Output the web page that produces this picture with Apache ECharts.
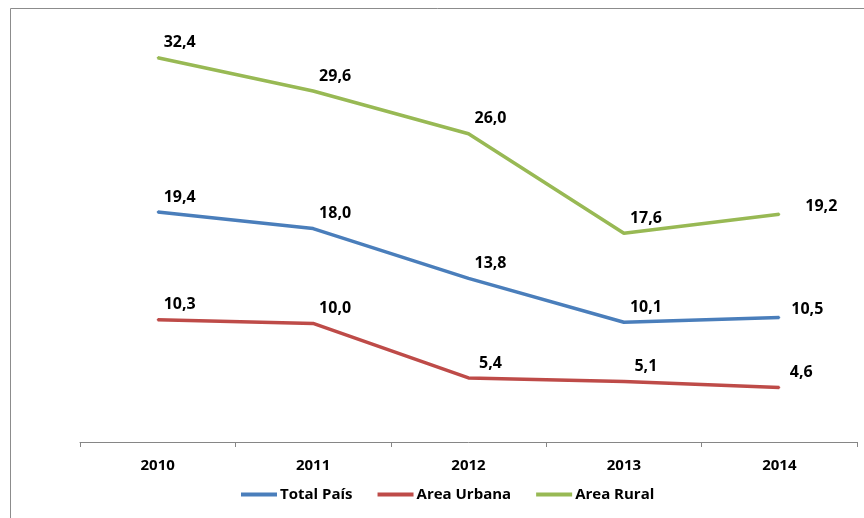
<!DOCTYPE html>
<html>
<head>
<meta charset="utf-8">
<script src="https://cdn.jsdelivr.net/npm/echarts@6/dist/echarts.min.js"></script>
<style>
  html, body { margin: 0; padding: 0; background: #fff; }
  #chart { width: 864px; height: 518px; }
</style>
</head>
<body>
<div id="chart"></div>
<script>
const years = ['2010', '2011', '2012', '2013', '2014'];
const totalPais = [19.4, 18.0, 13.8, 10.1, 10.5];
const areaUrbana = [10.3, 10.0, 5.4, 5.1, 4.6];
const areaRural = [32.4, 29.6, 26.0, 17.6, 19.2];

const font = 'Open Sans, Liberation Sans, sans-serif';

// lets the last point's label sit a bit further right, like the original
const withLastOffset = (values, dx) => values.map((v, i) =>
  i === values.length - 1 ? { value: v, label: { offset: [dx, 5] } } : v
);

const makeSeries = (name, color, data) => ({
  name,
  type: 'line',
  data,
  symbol: 'circle',
  symbolSize: 2,
  showSymbol: true,
  lineStyle: { width: 3.5, color },
  itemStyle: { color },
  label: {
    show: true,
    position: 'top',
    distance: 4,
    offset: [22, -2],
    color: '#000',
    fontFamily: font,
    fontWeight: 'bold',
    fontSize: 16,
    formatter: p => p.value.toFixed(1).replace('.', ',')
  }
});

const chart = echarts.init(document.getElementById('chart'));
chart.setOption({
  animation: false,
  graphic: [{
    type: 'rect',
    shape: { x: 10.5, y: 8.5, width: 900, height: 600 },
    style: { fill: 'none', stroke: '#8c8c8c', lineWidth: 1 }
  }],
  grid: { left: 80, right: 7, top: 27, bottom: 76 },
  legend: {
    bottom: 11,
    left: 236,
    icon: 'rect',
    itemWidth: 36,
    itemHeight: 4,
    itemGap: 25,
    textStyle: { fontFamily: font, fontWeight: 'bold', fontSize: 15, color: '#000', padding: [0, 0, 0, -2] },
    data: ['Total País', 'Area Urbana', 'Area Rural']
  },
  xAxis: {
    type: 'category',
    data: years,
    axisLine: { lineStyle: { color: '#868686', width: 1 } },
    axisTick: { show: true, length: 5, lineStyle: { color: '#868686' } },
    axisLabel: { margin: 16, color: '#000', fontFamily: font, fontWeight: 'bold', fontSize: 15 }
  },
  yAxis: {
    type: 'value',
    min: 0,
    max: 35,
    show: false,
    splitLine: { show: false }
  },
  series: [
    makeSeries('Total País', '#4a7ebb', withLastOffset(totalPais, 28)),
    makeSeries('Area Urbana', '#be4b48', areaUrbana),
    makeSeries('Area Rural', '#98b954', withLastOffset(areaRural, 42))
  ]
});
</script>
</body>
</html>
